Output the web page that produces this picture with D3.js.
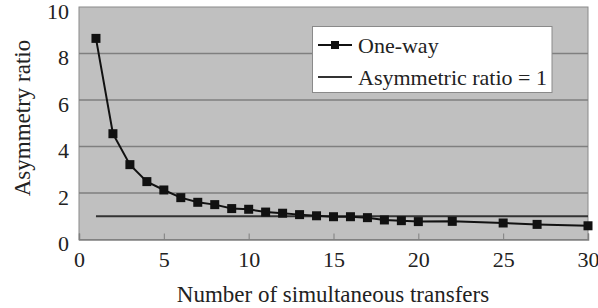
<!DOCTYPE html>
<html><head><meta charset="utf-8">
<script src="https://cdn.jsdelivr.net/npm/d3@7"></script>
<style>
html,body{margin:0;padding:0;background:#fff;}
</style></head>
<body>
<script>
const transfers = [1,2,3,4,5,6,7,8,9,10,11,12,13,14,15,16,17,18,19,20,22,25,27,30];
const oneWay = [8.65,4.55,3.22,2.49,2.13,1.80,1.60,1.50,1.33,1.30,1.18,1.13,1.07,1.02,0.98,0.98,0.94,0.84,0.81,0.77,0.78,0.71,0.65,0.59];
const ratioLineX = [1,30];
const ratioLineY = [1,1];
const xTicks = [0,5,10,15,20,25,30];
const yTicks = [0,2,4,6,8,10];
const seriesNames = ["One-way","Asymmetric ratio = 1"];
const xTitle = "Number of simultaneous transfers";
const yTitle = "Asymmetry ratio";

const FONT='"Liberation Serif", "Times New Roman", serif';
const W=598,H=308;
const L=79,R=588,T=7,B=239.5;
const svg=d3.select("body").append("svg").attr("width",W).attr("height",H);
const x=d3.scaleLinear().domain([0,30]).range([L,R]);
const y=d3.scaleLinear().domain([0,10]).range([B,T]);

svg.append("rect").attr("x",L).attr("y",T).attr("width",R-L).attr("height",B-T)
  .attr("fill","#c0c0c0").attr("stroke","#8a8a8a").attr("stroke-width",1);

svg.append("g").selectAll("line").data(yTicks.filter(d=>d>0&&d<10)).join("line")
  .attr("x1",L).attr("x2",R).attr("y1",d=>y(d)).attr("y2",d=>y(d))
  .attr("stroke","#7f7f7f").attr("stroke-width",1.5);

// x axis
const xAxis=d3.axisBottom(x).tickValues(xTicks).tickSize(-6).tickPadding(12);
const gx=svg.append("g").attr("transform",`translate(0,${B})`).call(xAxis);
gx.select(".domain").attr("stroke","#7f7f7f").attr("stroke-width",1.5);
gx.selectAll(".tick line").attr("stroke","#7f7f7f");
gx.selectAll("text").attr("font-size",22).attr("fill","#222").style("font-family",FONT);

const yAxis=d3.axisLeft(y).tickValues(yTicks).tickSize(0).tickPadding(10);
const gy=svg.append("g").attr("transform",`translate(${L},0)`).call(yAxis);
gy.select(".domain").remove();
gy.selectAll("text").attr("font-size",22).attr("fill","#222").attr("dy","0.5em").style("font-family",FONT);

// ratio line
svg.append("path").datum(ratioLineX.map((d,i)=>[d,ratioLineY[i]]))
  .attr("d",d3.line().x(d=>x(d[0])).y(d=>y(d[1])))
  .attr("fill","none").attr("stroke","#333").attr("stroke-width",2);

// one-way series
const pts=transfers.map((d,i)=>[d,oneWay[i]]);
svg.append("path").datum(pts).attr("d",d3.line().x(d=>x(d[0])).y(d=>y(d[1])))
  .attr("fill","none").attr("stroke","#111").attr("stroke-width",2);
svg.append("g").selectAll("rect").data(pts).join("rect")
  .attr("x",d=>x(d[0])-4.5).attr("y",d=>y(d[1])-4.5).attr("width",9).attr("height",9)
  .attr("fill","#111");

// legend
const lg=svg.append("g");
lg.append("rect").attr("x",312.5).attr("y",26.5).attr("width",239.5).attr("height",66)
  .attr("fill","#fff").attr("stroke","#8a8a8a").attr("stroke-width",1);
lg.append("line").attr("x1",318).attr("x2",352).attr("y1",45).attr("y2",45).attr("stroke","#111").attr("stroke-width",2);
lg.append("rect").attr("x",331).attr("y",41).attr("width",8).attr("height",8).attr("fill","#111");
lg.append("line").attr("x1",318).attr("x2",352).attr("y1",77).attr("y2",77).attr("stroke","#333").attr("stroke-width",2);
lg.append("text").attr("x",358).attr("y",53).attr("font-size",22).attr("fill","#222").style("font-family",FONT).text(seriesNames[0]);
lg.append("text").attr("x",358).attr("y",85).attr("font-size",22).attr("fill","#222").style("font-family",FONT).text(seriesNames[1]);

// titles
svg.append("text").attr("x",(L+R)/2-0.5).attr("y",302).attr("text-anchor","middle")
  .attr("font-size",23).attr("fill","#222").style("font-family",FONT).text(xTitle);
svg.append("text").attr("transform",`translate(30,118) rotate(-90)`).attr("text-anchor","middle")
  .attr("font-size",23).attr("fill","#222").style("font-family",FONT).text(yTitle);
</script>
</body></html>
